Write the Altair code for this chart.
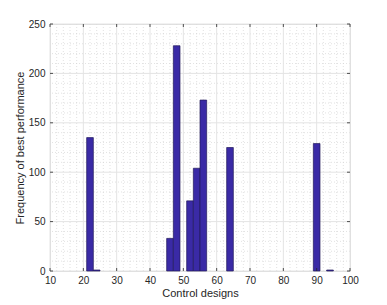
import altair as alt
import pandas as pd

bin_start = [21, 23, 45, 47, 51, 53, 55, 63, 89, 93]
bin_end = [23, 25, 47, 49, 53, 55, 57, 65, 91, 95]
freq = [135, 1, 33, 228, 71, 104, 173, 125, 129, 1]

x_major = [10, 20, 30, 40, 50, 60, 70, 80, 90, 100]
y_major = [0, 50, 100, 150, 200, 250]
x_minor = [v for v in range(12, 100, 2) if v % 10 != 0]
y_minor = [v for v in range(10, 250, 10) if v % 50 != 0]

W, H = 300, 247
FONT = "Liberation Sans"

bars_df = pd.DataFrame({"start": bin_start, "end": bin_end, "freq": freq})
xs = alt.Scale(domain=[10, 100], nice=False, zero=False)
ys = alt.Scale(domain=[0, 250], nice=False)

x_axis = alt.Axis(values=x_major, title="Control designs", grid=False,
                  ticks=False, domain=False, labelPadding=4, labelOverlap=False,
                  labelFontSize=10, titleFontSize=11, titleFont=FONT,
                  labelFont=FONT, labelColor="#262626", titleColor="#262626",
                  titlePadding=2, titleFontWeight="normal", labelFlush=False)
y_axis = alt.Axis(values=y_major, title="Frequency of best performance",
                  grid=False, ticks=False, domain=False, labelPadding=5,
                  labelOverlap=False, labelFlush=False,
                  labelFontSize=10, titleFontSize=11, titleFont=FONT,
                  labelFont=FONT, labelColor="#262626", titleColor="#262626",
                  titlePadding=3, titleFontWeight="normal")


def X(f):
    return alt.X(f, type="quantitative", scale=xs, axis=x_axis, title="Control designs")


def Y(f):
    return alt.Y(f, type="quantitative", scale=ys, axis=y_axis,
                 title="Frequency of best performance")


xminor = alt.Chart(pd.DataFrame({"x": x_minor})).mark_rule(
    color="#cfcfcf", strokeDash=[1, 2], strokeWidth=0.6
).encode(x=X("x"))
yminor = alt.Chart(pd.DataFrame({"y": y_minor})).mark_rule(
    color="#cfcfcf", strokeDash=[1, 2], strokeWidth=0.6
).encode(y=Y("y"))
xmaj = alt.Chart(pd.DataFrame({"x": x_major})).mark_rule(
    color="#e4e4e4", strokeWidth=1
).encode(x=X("x"))
ymaj = alt.Chart(pd.DataFrame({"y": y_major})).mark_rule(
    color="#e4e4e4", strokeWidth=1
).encode(y=Y("y"))

bars = alt.Chart(bars_df).mark_bar(
    color="#3a2aa6", stroke="#221a5a", strokeWidth=0.7
).encode(
    x=X("start"),
    x2="end:Q",
    y=Y("freq"),
    y2=alt.datum(0),
)

tick_col = "#262626"
xt_bot = alt.Chart(pd.DataFrame({"x": x_major})).mark_rule(color=tick_col, strokeWidth=0.8).encode(
    x=X("x"), y=alt.value(H), y2=alt.value(H - 3))
xt_top = alt.Chart(pd.DataFrame({"x": x_major})).mark_rule(color=tick_col, strokeWidth=0.8).encode(
    x=X("x"), y=alt.value(0), y2=alt.value(3))
yt_left = alt.Chart(pd.DataFrame({"y": y_major})).mark_rule(color=tick_col, strokeWidth=0.8).encode(
    y=Y("y"), x=alt.value(0), x2=alt.value(3))
yt_right = alt.Chart(pd.DataFrame({"y": y_major})).mark_rule(color=tick_col, strokeWidth=0.8).encode(
    y=Y("y"), x=alt.value(W), x2=alt.value(W - 3))

chart = alt.layer(
    xminor, yminor, xmaj, ymaj, bars, xt_bot, xt_top, yt_left, yt_right
).properties(
    width=W, height=H,
    autosize=alt.AutoSizeParams(type="none"),
    padding={"left": 42, "top": 16, "right": 29, "bottom": 30},
).configure_view(
    stroke="#555555", strokeWidth=1
).configure(background="white")

chart.save("out.html", embed_options={"renderer": "svg", "actions": False})
